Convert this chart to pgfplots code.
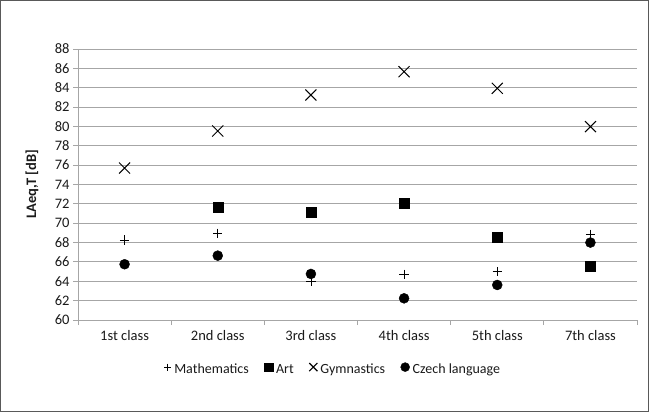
\documentclass[border=0pt]{standalone}
\usepackage{pgfplots}
\pgfplotsset{compat=1.18}
\usepackage{fontspec}
\setmainfont{Carlito}
\definecolor{gridgray}{HTML}{A6A6A6}
\definecolor{txt}{HTML}{1A1A1A}
\begin{document}
\begin{tikzpicture}[x=1bp,y=1bp]
\useasboundingbox (0,0) rectangle (649,412);
\draw[draw=gray!70!black, line width=0.8bp] (0.5,0.5) rectangle (648.5,411.5);
\begin{axis}[
  at={(78bp,92bp)}, anchor=south west,
  scale only axis, width=559bp, height=271bp,
  xmin=0.5, xmax=6.5, ymin=60, ymax=88,
  xtick={1,...,6},
  xticklabels={1st class,2nd class,3rd class,4th class,5th class,7th class},
  minor xtick={0.5,1.5,...,6.5},
  ytick={60,62,...,88},
  ymajorgrids, grid style={gridgray, line width=0.9bp},
  axis x line*=bottom, axis y line*=left,
  axis line style={gridgray, line width=0.9bp},
  tick align=outside,
  major x tick style={draw=none},
  minor x tick style={gridgray, line width=0.9bp},
  y tick style={gridgray, line width=0.9bp},
  major tick length=5bp, minor tick length=5bp,
  /pgf/number format/assume math mode=true,
  ticklabel style={font=\fontsize{14.5bp}{16bp}\selectfont, text=txt},
  xticklabel style={yshift=-2bp},
  ylabel={\textbf{LAeq,T [dB]}},
  every axis y label/.style={at={(axis description cs:-0.0823,0.5)}, rotate=90, anchor=center,
     font=\fontsize{14.5bp}{16bp}\selectfont, text=txt},
  legend style={at={(0.455,-0.181)}, anchor=center, draw=none, fill=none,
    font=\fontsize{14bp}{16bp}\selectfont, text=txt,
    nodes={inner sep=0.5bp},
    legend columns=-1,
    /tikz/every odd column/.append style={column sep=2.5bp},
    /tikz/every even column/.append style={column sep=15bp}},
  legend image code/.code={\draw[#1] plot coordinates {(0bp,2.3bp)};},
  legend cell align=left,
  clip=false,
]
\addplot[only marks, mark=+, mark size=4.6bp, black, line width=0.8bp,
  legend image post style={mark size=3.6bp}] coordinates {
 (1,68.27) (2,68.96) (3,63.97) (4,64.72) (5,65.0) (6,68.85)};
\addlegendentry{Mathematics}
\addplot[only marks, mark=square*, mark size=5bp, black,
  legend image post style={mark size=4.4bp}] coordinates {
 (2,71.7) (3,71.16) (4,72.1) (5,68.58) (6,65.51)};
\addlegendentry{Art}
\addplot[only marks, mark=x, mark size=7.8bp, black, line width=1bp,
  legend image post style={mark size=5.8bp, line width=1.1bp}] coordinates {
 (1,75.7) (2,79.53) (3,83.25) (4,85.66) (5,83.94) (6,79.98)};
\addlegendentry{Gymnastics}
\addplot[only marks, mark=*, mark size=5bp, black,
  legend image post style={mark size=4.5bp}] coordinates {
 (1,65.76) (2,66.65) (3,64.76) (4,62.24) (5,63.62) (6,68.0)};
\addlegendentry{Czech language}
\end{axis}
\end{tikzpicture}
\end{document}
